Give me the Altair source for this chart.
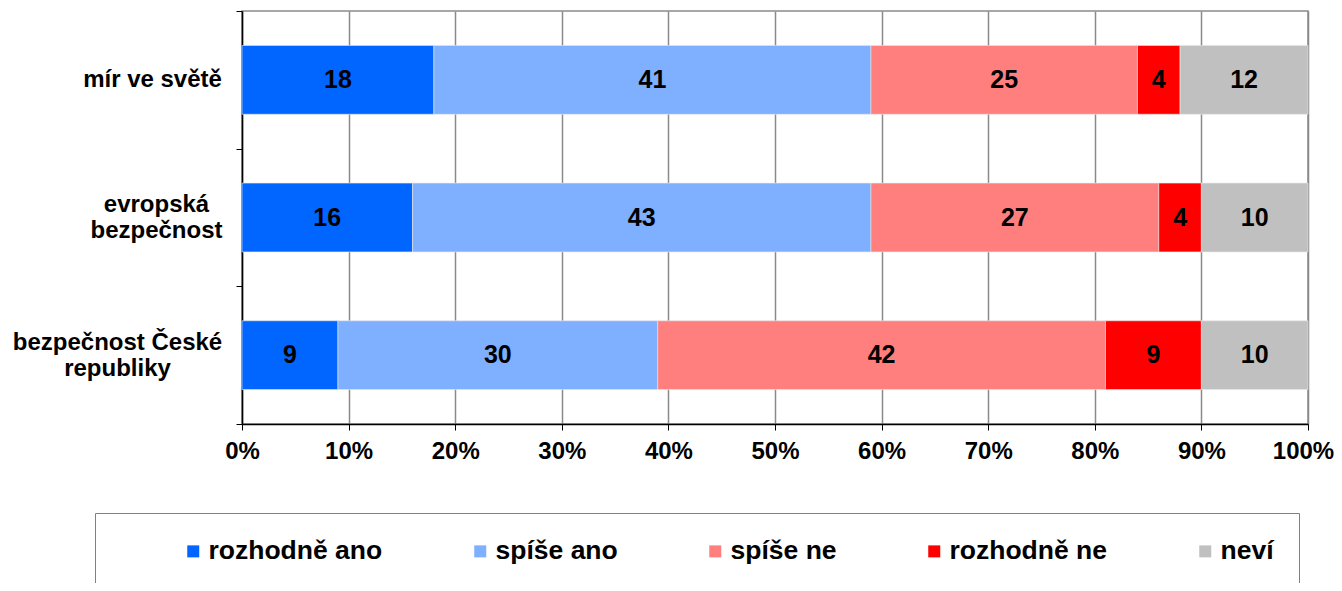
import altair as alt
import pandas as pd

categories = ["mír ve světě", "evropská bezpečnost", "bezpečnost České republiky"]
category_lines = [["mír ve světě"], ["evropská", "bezpečnost"], ["bezpečnost České", "republiky"]]
series = ["rozhodně ano", "spíše ano", "spíše ne", "rozhodně ne", "neví"]
colors = ["#0066FF", "#7FAFFF", "#FF7F7F", "#FF0000", "#C0C0C0"]
values = {
    "mír ve světě": [18, 41, 25, 4, 12],
    "evropská bezpečnost": [16, 43, 27, 4, 10],
    "bezpečnost České republiky": [9, 30, 42, 9, 10],
}
x_ticks = [0, 10, 20, 30, 40, 50, 60, 70, 80, 90, 100]
label_pads = [84, 80, 119]

rows = []
for c in categories:
    for i, s in enumerate(series):
        rows.append({"cat": c, "series": s, "order": i, "value": values[c][i]})
df = pd.DataFrame(rows)

FONT = "Liberation Sans"

label_expr = " : ".join(
    f"datum.label == '{c}' ? {lines!r}" for c, lines in zip(categories, category_lines)
) + " : datum.label"

pad_cond = {
    "condition": [
        {"test": f"datum.label == '{categories[0]}'", "value": label_pads[0]},
        {"test": f"datum.label == '{categories[1]}'", "value": label_pads[1]},
    ],
    "value": label_pads[2],
}
offset_cond = {
    "condition": {"test": f"datum.label == '{categories[0]}'", "value": 0},
    "value": -13,
}
x_offset_cond = {
    "condition": {"test": "datum.value == 100", "value": -5},
    "value": 0,
}

base = alt.Chart(df).transform_stack(
    stack="value", groupby=["cat"], as_=["x0", "x1"], sort=[alt.SortField("order")]
).transform_calculate(mid="(datum.x0 + datum.x1) / 2")

y_enc = alt.Y(
    "cat:N",
    sort=categories,
    scale=alt.Scale(paddingInner=0, paddingOuter=0),
    axis=alt.Axis(
        title=None,
        labelExpr=label_expr,
        labelAlign="center",
        labelBaseline="middle",
        labelPadding=pad_cond,
        labelOffset=offset_cond,
        labelFont=FONT,
        labelFontSize=24,
        labelFontWeight="bold",
        labelColor="black",
        labelLineHeight=26,
        labelLimit=400,
        tickBand="extent",
        tickSize=6,
        tickColor="black",
        domainColor="black",
        domainWidth=1.5,
        grid=False,
    ),
)

bars = base.mark_bar(stroke="#e8e8e8", strokeWidth=0.6, height={"band": 0.5}).encode(
    x=alt.X(
        "x0:Q",
        scale=alt.Scale(domain=[0, 100], nice=False),
        axis=alt.Axis(
            title=None,
            values=x_ticks,
            labelExpr="datum.value + '%'",
            labelFont=FONT,
            labelFontSize=24,
            labelFontWeight="bold",
            labelColor="black",
            labelPadding=9,
            labelOffset=x_offset_cond,
            labelFlush=False,
            labelBound=False,
            labelOverlap=False,
            tickSize=6,
            tickColor="black",
            domainColor="black",
            domainWidth=1.5,
            grid=True,
            gridColor="#8a8a8a",
            gridWidth=1.5,
        ),
    ),
    x2="x1:Q",
    y=y_enc,
    color=alt.Color(
        "series:N",
        scale=alt.Scale(domain=series, range=colors),
        legend=alt.Legend(
            orient="none",
            legendX=-147,
            legendY=502,
            direction="horizontal",
            title=".",
            titleOrient="left",
            titleColor="white",
            titleFontSize=8,
            titlePadding=57,
            strokeColor="#808080",
            padding=25,
            symbolType="square",
            symbolSize=144,
            symbolStrokeWidth=0,
            labelFont=FONT,
            labelFontSize=26.5,
            labelFontWeight="bold",
            labelColor="black",
            labelOffset=2,
            columnPadding=84,
            labelLimit=400,
        ),
    ),
)

texts = base.mark_text(font=FONT, fontSize=25, fontWeight="bold", color="black").encode(
    x=alt.X("mid:Q"),
    y=alt.Y("cat:N", sort=categories),
    text="value:Q",
)

chart = alt.layer(bars, texts).properties(
    width=1066,
    height=413,
    padding={"left": 234, "top": 3, "right": 26, "bottom": 159},
    autosize=alt.AutoSizeParams(type="none"),
).configure_view(stroke="#8a8a8a", strokeWidth=1.5)

chart.save("out.html", embed_options={"renderer": "svg", "actions": False})
